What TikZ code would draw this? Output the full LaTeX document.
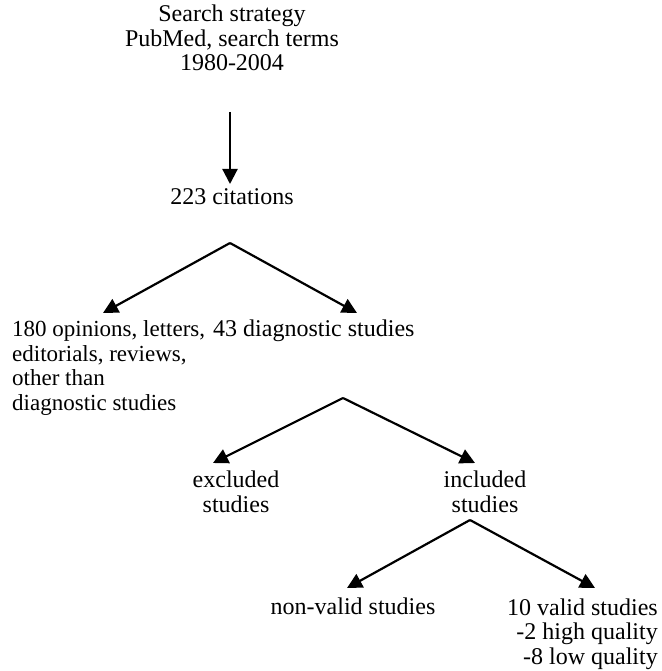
\documentclass[tikz,border=0pt]{standalone}
\usepackage{fontspec}
\setmainfont{Liberation Serif}
\usetikzlibrary{arrows.meta}
\begin{document}
\begin{tikzpicture}[x=1pt,y=-1pt,
  lbl/.style={inner sep=0pt,font=\fontsize{24}{24.5}\selectfont},
  lblsm/.style={inner sep=0pt,font=\fontsize{23}{24.5}\selectfont},
  conn/.style={line width=2.2pt,-{Triangle[length=15pt,width=15pt]}}]
\useasboundingbox (0,0) rectangle (661,671);
% text nodes (base anchor = baseline of last line)
\node[lbl,align=center,anchor=base] (search) at (232,71) {Search strategy\\PubMed, search terms\\1980-2004};
\node[lbl,anchor=base] (cit) at (232,204) {223 citations};
\node[lblsm,align=left,anchor=base west] (opin) at (12,410) {180 opinions, letters,\\editorials, reviews,\\other than\\diagnostic studies};
\node[lbl,anchor=base west] (diag) at (213,336) {43 diagnostic studies};
\node[lbl,align=center,anchor=base] (excl) at (236,512) {excluded\\studies};
\node[lbl,align=center,anchor=base] (incl) at (485,512) {included\\studies};
\node[lbl,anchor=base] (nonv) at (353,614) {non-valid studies};
\node[lbl,align=right,anchor=base east] (valid) at (658,664) {10 valid studies\\-2 high quality\\-8 low quality};
% connector points
\coordinate (a0s) at (230,112);
\coordinate (a0e) at (230,184);
\coordinate (ap1) at (230,243);
\coordinate (t1l) at (103,313);
\coordinate (t1r) at (357,313);
\coordinate (ap2) at (343,398);
\coordinate (t2l) at (213,463);
\coordinate (t2r) at (475,463);
\coordinate (ap3) at (470,520);
\coordinate (t3l) at (347,588);
\coordinate (t3r) at (595,588);
% connectors
\draw[conn] (a0s) -- (a0e);
\draw[conn] (ap1) -- (t1l);
\draw[conn] (ap1) -- (t1r);
\draw[conn] (ap2) -- (t2l);
\draw[conn] (ap2) -- (t2r);
\draw[conn] (ap3) -- (t3l);
\draw[conn] (ap3) -- (t3r);
\end{tikzpicture}
\end{document}
